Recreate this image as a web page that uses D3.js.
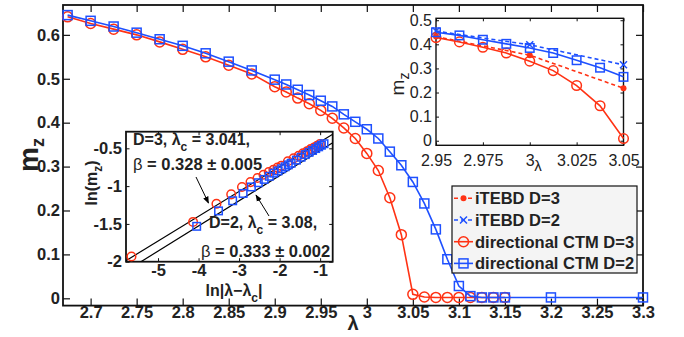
<!DOCTYPE html>
<html>
<head>
<meta charset="utf-8">
<script src="https://cdn.jsdelivr.net/npm/d3@7"></script>
<style>
  body { margin: 0; background: #fff; }
  text { font-family: "Liberation Sans", Arial, Helvetica, sans-serif; fill: #222; }
</style>
</head>
<body>
<div class="graph-container"></div>
<script>
// ---- data ----
// directional CTM D=3 (red circles)
const lambdaD3 = [2.675, 2.7, 2.725, 2.75, 2.775, 2.8, 2.825, 2.85, 2.875, 2.9,
  2.9125, 2.925, 2.9375, 2.95, 2.9625, 2.975, 2.9875, 3.0, 3.0125, 3.025, 3.0375,
  3.05, 3.0625, 3.075, 3.0875, 3.1, 3.1125, 3.125, 3.1375, 3.15];
const ctmD3 = [0.641, 0.626, 0.613, 0.600, 0.584, 0.567, 0.550, 0.531, 0.511, 0.482,
  0.470, 0.456, 0.443, 0.428, 0.410, 0.388, 0.364, 0.330, 0.291, 0.229, 0.145,
  0.009, 0.003, 0.002, 0.002, 0.002, 0.002, 0.002, 0.002, 0.002];
// directional CTM D=2 (blue squares)
const lambdaD2 = [2.675, 2.7, 2.725, 2.75, 2.775, 2.8, 2.825, 2.85, 2.875, 2.9,
  2.9125, 2.925, 2.9375, 2.95, 2.9625, 2.975, 2.9875, 3.0, 3.0125, 3.025, 3.0375,
  3.05, 3.0625, 3.075, 3.0875, 3.1, 3.1125, 3.125, 3.1375, 3.15, 3.2, 3.3];
const ctmD2 = [0.645, 0.632, 0.619, 0.605, 0.590, 0.575, 0.558, 0.539, 0.519, 0.498,
  0.487, 0.475, 0.463, 0.450, 0.437, 0.419, 0.402, 0.385, 0.364, 0.334, 0.303,
  0.265, 0.216, 0.157, 0.089, 0.028, 0.005, 0.002, 0.002, 0.002, 0.002, 0.002];
// iTEBD points (inset)
const lambdaTebd = [2.95, 3.0, 3.05];
const tebdD3 = [0.432, 0.355, 0.218];
const tebdD2 = [0.455, 0.398, 0.315];
// log-log inset: ln|lambda - lambda_c| vs ln(m_z)
const logXD3 = [-5.655, -4.135, -3.558, -3.194, -2.928, -2.718, -2.545, -2.397, -2.268,
  -2.154, -2.052, -1.959, -1.796, -1.655, -1.532, -1.423, -1.324, -1.234, -1.152, -1.076, -1.005];
const logYD3 = [-1.931, -1.474, -1.234, -1.109, -1.011, -0.947, -0.892, -0.849, -0.814,
  -0.785, -0.755, -0.730, -0.671, -0.633, -0.598, -0.567, -0.538, -0.511, -0.489, -0.468, -0.445];
const logXD2 = [-4.046, -3.507, -3.158, -2.900, -2.696, -2.526, -2.381, -2.254, -2.141,
  -2.040, -1.948, -1.864, -1.787, -1.715, -1.585, -1.470, -1.366, -1.273, -1.187, -1.109,
  -1.036, -0.968, -0.904];
const logYD2 = [-1.532, -1.328, -1.194, -1.097, -1.011, -0.955, -0.911, -0.870, -0.828,
  -0.799, -0.770, -0.744, -0.719, -0.697, -0.656, -0.618, -0.583, -0.553, -0.528, -0.503,
  -0.480, -0.459, -0.439];
// fitted lines: [slope, intercept]
const fitD3 = [0.328, -0.087];
const fitD2 = [0.333, -0.195];

// ticks
const mainXTicks = [2.7, 2.75, 2.8, 2.85, 2.9, 2.95, 3, 3.05, 3.1, 3.15, 3.2, 3.25, 3.3];
const mainYTicks = [0, 0.1, 0.2, 0.3, 0.4, 0.5, 0.6];
const insetXTicks = [2.95, 2.975, 3, 3.025, 3.05];
const insetYTicks = [0, 0.1, 0.2, 0.3, 0.4, 0.5];
const logXTicks = [-5, -4, -3, -2, -1];
const logYTicks = [-2, -1.5, -1, -0.5];
const legendLabels = ['iTEBD D=3', 'iTEBD D=2', 'directional CTM D=3', 'directional CTM D=2'];

// ---- svg ----
const w = 684;
const h = 337;
const red = '#ff3214';
const blue = '#1e50ff';

const svg = d3.select('.graph-container')
  .append('svg')
  .attr('width', w)
  .attr('height', h);

// draw helpers
function drawCircles(g, xs, ys, xS, yS, r, color) {
  g.selectAll(null)
    .data(xs)
    .enter()
    .append('circle')
    .attr('cx', (d) => xS(d))
    .attr('cy', (d, i) => yS(ys[i]))
    .attr('r', r)
    .attr('fill', 'none')
    .attr('stroke', color)
    .attr('stroke-width', 1.5);
}

function drawSquares(g, xs, ys, xS, yS, s, color) {
  g.selectAll(null)
    .data(xs)
    .enter()
    .append('rect')
    .attr('x', (d) => xS(d) - s / 2)
    .attr('y', (d, i) => yS(ys[i]) - s / 2)
    .attr('width', s)
    .attr('height', s)
    .attr('fill', 'none')
    .attr('stroke', color)
    .attr('stroke-width', 1.5);
}

function drawLine(g, xs, ys, xS, yS, color, dash) {
  const line = d3.line().x((d) => xS(d)).y((d, i) => yS(ys[i]));
  g.append('path')
    .attr('d', line(xs))
    .attr('fill', 'none')
    .attr('stroke', color)
    .attr('stroke-width', 1.6)
    .attr('stroke-dasharray', dash || null);
}

function drawCrosses(g, xs, ys, xS, yS, s, color) {
  xs.forEach((d, i) => {
    const cx = xS(d);
    const cy = yS(ys[i]);
    g.append('path')
      .attr('d', `M${cx - s},${cy - s}L${cx + s},${cy + s}M${cx - s},${cy + s}L${cx + s},${cy - s}`)
      .attr('stroke', color)
      .attr('stroke-width', 1.5);
  });
}

function drawDots(g, xs, ys, xS, yS, r, color) {
  g.selectAll(null)
    .data(xs)
    .enter()
    .append('circle')
    .attr('cx', (d) => xS(d))
    .attr('cy', (d, i) => yS(ys[i]))
    .attr('r', r)
    .attr('fill', color);
}

// frame: axes on 4 sides, ticks pointing in
function drawFrame(g, xS, yS, xTicks, yTicks, opts) {
  const [x0, x1] = xS.range();
  const [y0, y1] = yS.range();
  const fmtX = opts.fmtX || ((d) => d);
  const fmtY = opts.fmtY || ((d) => d);

  const bottom = g.append('g')
    .attr('transform', `translate(0, ${y0})`)
    .call(d3.axisBottom(xS).tickValues(xTicks).tickSizeInner(-opts.tick).tickSizeOuter(0)
      .tickPadding(opts.padX).tickFormat(fmtX));
  const left = g.append('g')
    .attr('transform', `translate(${x0}, 0)`)
    .call(d3.axisLeft(yS).tickValues(yTicks).tickSizeInner(-opts.tick).tickSizeOuter(0)
      .tickPadding(opts.padY).tickFormat(fmtY));
  const top = g.append('g')
    .attr('transform', `translate(0, ${y1})`)
    .call(d3.axisTop(xS).tickValues(xTicks).tickSizeInner(-opts.tick).tickSizeOuter(0).tickFormat(''));
  const right = g.append('g')
    .attr('transform', `translate(${x1}, 0)`)
    .call(d3.axisRight(yS).tickValues(yTicks).tickSizeInner(-opts.tick).tickSizeOuter(0).tickFormat(''));

  [bottom, left, top, right].forEach((a) => {
    a.select('.domain').remove();
    a.selectAll('line').attr('stroke', '#111').attr('stroke-width', opts.tickW || 1);
    a.selectAll('text')
      .attr('fill', '#222')
      .style('font-size', `${opts.font}px`)
      .style('font-weight', opts.bold ? 'bold' : 'normal')
      .style('font-family', '"Liberation Sans", Arial, sans-serif');
  });

  g.append('rect')
    .attr('x', x0)
    .attr('y', y1)
    .attr('width', x1 - x0)
    .attr('height', y0 - y1)
    .attr('fill', 'none')
    .attr('stroke', '#111')
    .attr('stroke-width', opts.frameW);
}

// ---- main plot ----
const xScale = d3.scaleLinear([2.67, 3.3], [63, 643]);
const yScale = d3.scaleLinear([-0.0166, 0.668], [305.6, 5]);

const main = svg.append('g').attr('id', 'main');
drawFrame(main, xScale, yScale, mainXTicks, mainYTicks, {
  tick: 7, padX: 1, padY: 3, font: 16.5, bold: true, frameW: 1.8, tickW: 1.2,
});

const mainData = svg.append('g');
drawLine(mainData, lambdaD3, ctmD3, xScale, yScale, red);
drawCircles(mainData, lambdaD3, ctmD3, xScale, yScale, 5, red);
drawLine(mainData, lambdaD2, ctmD2, xScale, yScale, blue);
drawSquares(mainData, lambdaD2, ctmD2, xScale, yScale, 9, blue);

// axis labels
svg.append('text')
  .attr('transform', 'translate(38, 155) rotate(-90)')
  .attr('text-anchor', 'middle')
  .style('font-size', '28px')
  .style('font-weight', 'bold')
  .text('m')
  .append('tspan')
  .attr('dy', 6)
  .style('font-size', '18px')
  .text('z');

svg.append('text')
  .attr('x', 353)
  .attr('y', 330)
  .attr('text-anchor', 'middle')
  .style('font-size', '20px')
  .style('font-weight', 'bold')
  .text('λ');

// ---- top right inset ----
const ixScale = d3.scaleLinear([2.95, 3.05], [436, 623.5]);
const iyScale = d3.scaleLinear([-0.019, 0.508], [145.3, 18.3]);

const inset = svg.append('g').attr('id', 'inset');
inset.append('rect')
  .attr('x', 436).attr('y', 18.3)
  .attr('width', 187.5).attr('height', 127)
  .attr('fill', '#fff');
drawFrame(inset, ixScale, iyScale, insetXTicks, insetYTicks, {
  tick: 3, padX: 9, padY: 4, font: 16, bold: false, frameW: 1.4,
  fmtX: d3.format(''), fmtY: d3.format('.1~f'),
});

const insetData = inset.append('g');
drawLine(insetData, lambdaTebd, tebdD3, ixScale, iyScale, red, '4,3');
drawDots(insetData, lambdaTebd, tebdD3, ixScale, iyScale, 3, red);
drawLine(insetData, lambdaTebd, tebdD2, ixScale, iyScale, blue, '4,3');
drawCrosses(insetData, lambdaTebd, tebdD2, ixScale, iyScale, 3.5, blue);
const inD3 = lambdaD3.filter((d) => d >= 2.95 && d <= 3.05);
const inD3y = ctmD3.filter((d, i) => lambdaD3[i] >= 2.95 && lambdaD3[i] <= 3.05);
const inD2 = lambdaD2.filter((d) => d >= 2.95 && d <= 3.05);
const inD2y = ctmD2.filter((d, i) => lambdaD2[i] >= 2.95 && lambdaD2[i] <= 3.05);
drawLine(insetData, inD3, inD3y, ixScale, iyScale, red);
drawCircles(insetData, inD3, inD3y, ixScale, iyScale, 4.8, red);
drawLine(insetData, inD2, inD2y, ixScale, iyScale, blue);
drawSquares(insetData, inD2, inD2y, ixScale, iyScale, 8.5, blue);

inset.append('text')
  .attr('transform', 'translate(404, 84) rotate(-90)')
  .attr('text-anchor', 'middle')
  .style('font-size', '19px')
  .text('m')
  .append('tspan')
  .attr('dy', 5)
  .style('font-size', '14px')
  .text('z');

inset.append('text')
  .attr('x', 538)
  .attr('y', 171)
  .attr('text-anchor', 'middle')
  .style('font-size', '15px')
  .text('λ');

// ---- log-log inset ----
const lxScale = d3.scaleLinear([-5.79, -0.69], [126, 332.7]);
const lyScale = d3.scaleLinear([-2, -0.28], [261.7, 131.7]);

const logInset = svg.append('g').attr('id', 'log-inset');
logInset.append('rect')
  .attr('x', 126).attr('y', 131.7)
  .attr('width', 206.7).attr('height', 130)
  .attr('fill', '#fff');

svg.append('clipPath').attr('id', 'log-clip')
  .append('rect')
  .attr('x', 126).attr('y', 131.7)
  .attr('width', 206.7).attr('height', 130);

drawFrame(logInset, lxScale, lyScale, logXTicks, logYTicks, {
  tick: 3.5, padX: 3, padY: 4, font: 16.5, bold: true, frameW: 1.8,
});

const logData = logInset.append('g').attr('clip-path', 'url(#log-clip)');
[fitD3, fitD2].forEach((f) => {
  const xs = lxScale.domain();
  logData.append('line')
    .attr('x1', lxScale(xs[0])).attr('y1', lyScale(f[0] * xs[0] + f[1]))
    .attr('x2', lxScale(xs[1])).attr('y2', lyScale(f[0] * xs[1] + f[1]))
    .attr('stroke', '#000')
    .attr('stroke-width', 1.2);
});
drawCircles(logData, logXD3, logYD3, lxScale, lyScale, 4.3, red);
drawSquares(logData, logXD2, logYD2, lxScale, lyScale, 7.5, blue);

// log inset labels
const xl = logInset.append('text')
  .attr('x', 234)
  .attr('y', 296)
  .attr('text-anchor', 'middle')
  .style('font-size', '16px')
  .style('font-weight', 'bold');
xl.append('tspan').text('ln|λ−λ');
xl.append('tspan').attr('dy', 6).style('font-size', '12px').text('c');
xl.append('tspan').attr('dy', -6).text('|');

const yl = logInset.append('text')
  .attr('transform', 'translate(97, 183) rotate(-90)')
  .attr('text-anchor', 'middle')
  .style('font-size', '16px')
  .style('font-weight', 'bold');
yl.append('tspan').text('ln(m');
yl.append('tspan').attr('dy', 5).style('font-size', '12px').text('z');
yl.append('tspan').attr('dy', -5).text(')');

function annotate(x, y, lc) {
  const t = logInset.append('text')
    .attr('x', x)
    .attr('y', y)
    .style('font-size', '16px')
    .style('font-weight', 'bold');
  t.append('tspan').text(lc[0]);
  t.append('tspan').attr('dy', 6).style('font-size', '12px').text('c');
  t.append('tspan').attr('dy', -6).text(lc[1]);
}
annotate(133, 145, ['D=3, λ', ' = 3.041,']);
annotate(209, 228, ['D=2, λ', ' = 3.08,']);

function betaText(x, y, rest) {
  const t = logInset.append('text')
    .attr('x', x)
    .attr('y', y)
    .style('font-size', '16.5px')
    .style('font-weight', 'bold');
  t.append('tspan').style('font-weight', 'normal').text('β');
  t.append('tspan').text(rest);
}
betaText(133, 170, ' = 0.328 ± 0.005');
betaText(201, 257, ' = 0.333 ± 0.002');

// arrows
svg.append('defs').append('marker')
  .attr('id', 'head')
  .attr('viewBox', '0 0 10 10')
  .attr('refX', 9).attr('refY', 5)
  .attr('markerWidth', 7).attr('markerHeight', 7)
  .attr('orient', 'auto')
  .append('path')
  .attr('d', 'M0,1L10,5L0,9z')
  .attr('fill', '#000');

logInset.append('line')
  .attr('x1', 196).attr('y1', 177)
  .attr('x2', 208.5).attr('y2', 203)
  .attr('stroke', '#000').attr('stroke-width', 1)
  .attr('marker-end', 'url(#head)');
logInset.append('line')
  .attr('x1', 269).attr('y1', 216)
  .attr('x2', 256).attr('y2', 195)
  .attr('stroke', '#000').attr('stroke-width', 1)
  .attr('marker-end', 'url(#head)');

// ---- legend ----
const legend = svg.append('g').attr('id', 'legend');
legend.append('rect')
  .attr('x', 452).attr('y', 186)
  .attr('width', 185).attr('height', 87)
  .attr('fill', '#f4f4f4')
  .attr('stroke', '#111')
  .attr('stroke-width', 1.2);

const rows = legend.selectAll('g.row')
  .data(legendLabels)
  .enter()
  .append('g')
  .attr('class', 'row')
  .attr('transform', (d, i) => `translate(0, ${198.3 + i * 21.7})`);

rows.append('line')
  .attr('x1', 454).attr('x2', 473)
  .attr('stroke', (d, i) => (i % 2 === 0 ? red : blue))
  .attr('stroke-width', 1.6)
  .attr('stroke-dasharray', (d, i) => (i < 2 ? '4,3' : null));

rows.append('text')
  .attr('x', 475)
  .attr('dy', '0.36em')
  .style('font-size', '16.5px')
  .style('font-weight', 'bold')
  .text((d) => d);

rows.each(function (d, i) {
  const g = d3.select(this);
  const c = i % 2 === 0 ? red : blue;
  if (i === 0) g.append('circle').attr('cx', 463.5).attr('r', 3).attr('fill', c);
  if (i === 1) g.append('path').attr('d', 'M460,-3.5L467,3.5M460,3.5L467,-3.5').attr('stroke', c).attr('stroke-width', 1.5);
  if (i === 2) g.append('circle').attr('cx', 463.5).attr('r', 5).attr('fill', 'none').attr('stroke', c).attr('stroke-width', 1.5);
  if (i === 3) g.append('rect').attr('x', 459).attr('y', -4.5).attr('width', 9).attr('height', 9).attr('fill', 'none').attr('stroke', c).attr('stroke-width', 1.5);
});
</script>
</body>
</html>
